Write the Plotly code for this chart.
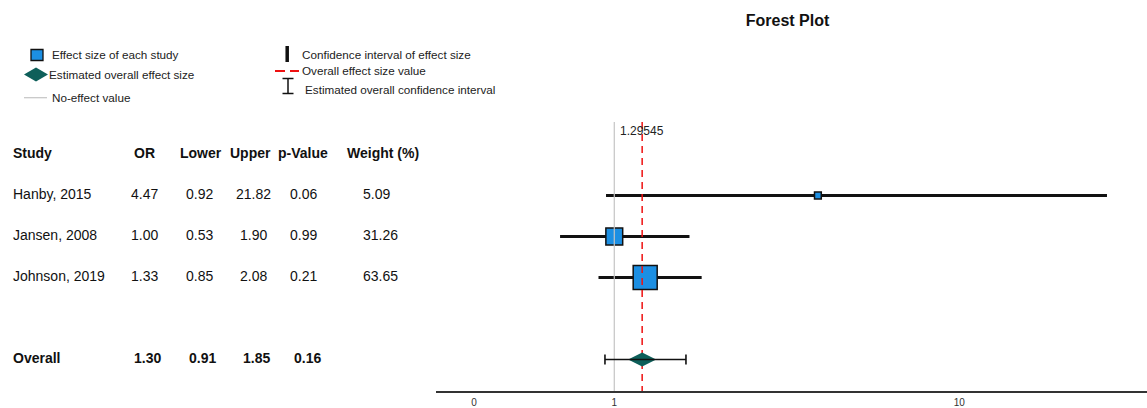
import math
import plotly.graph_objects as go

# ---------------- data ----------------
studies = ["Hanby, 2015", "Jansen, 2008", "Johnson, 2019"]
odds_ratio = [4.47, 1.00, 1.33]
ci_lower = [0.92, 0.53, 0.85]
ci_upper = [21.82, 1.90, 2.08]
p_values = [0.06, 0.99, 0.21]
weights = [5.09, 31.26, 63.65]

overall_label = "Overall"
overall_or = 1.29545
overall_lower = 0.91
overall_upper = 1.85
overall_p = 0.16

no_effect = 1.0
axis_ticks = [0, 1, 10]
header = ["Study", "OR", "Lower", "Upper", "p-Value", "Weight (%)"]

# ---------------- layout helpers ----------------
W, H = 1147, 408
FONT = "Arial, Liberation Sans, sans-serif"
BLUE = "#1c8fe3"
TEAL = "#0e5f5a"


def px(x):
    return x / W


def py(y):
    return 1 - y / H


ROW0, ROWH = 154.5, 41.0          # pixel of row 0 and row height
AXIS_PX = 391                     # pixel of x axis line
rows = list(range(1, len(studies) + 1))
overall_row = len(studies) + 2
line_top = -0.79                  # top of reference lines (row units)
line_bottom = (AXIS_PX - ROW0) / ROWH


def shift(v):
    # log(x+1) scale: plot value+1 on a log axis
    return v + 1


fig = go.Figure()

# study confidence intervals
fig.add_trace(go.Scatter(
    x=[shift(v) for v in odds_ratio], y=rows, mode="markers",
    marker=dict(size=1, color="rgba(0,0,0,0)"),
    error_x=dict(type="data", symmetric=False,
                 array=[u - o for u, o in zip(ci_upper, odds_ratio)],
                 arrayminus=[o - l for o, l in zip(odds_ratio, ci_lower)],
                 color="#111111", thickness=3, width=0),
    hoverinfo="skip", showlegend=False))

# study effect sizes (squares sized by weight)
wmax = max(weights)
fig.add_trace(go.Scatter(
    x=[shift(v) for v in odds_ratio], y=rows, mode="markers",
    marker=dict(symbol="square", color=BLUE, opacity=1,
                size=[24 * (w / wmax) ** 0.5 for w in weights],
                line=dict(color="#111111", width=1.5)),
    showlegend=False))

# no-effect line
fig.add_trace(go.Scatter(
    x=[shift(no_effect)] * 2, y=[line_top, line_bottom],
    mode="lines", line=dict(color="#c4c4c4", width=1.2),
    hoverinfo="skip", showlegend=False))

# overall effect line
fig.add_trace(go.Scatter(
    x=[shift(overall_or)] * 2, y=[line_top, line_bottom],
    mode="lines", line=dict(color="#ee1111", width=1.5, dash="7px,5px"),
    hoverinfo="skip", showlegend=False))

# overall diamond
fig.add_trace(go.Scatter(
    x=[shift(overall_or)], y=[overall_row], mode="markers",
    marker=dict(symbol="diamond-wide", size=20, color=TEAL, opacity=1,
                line=dict(width=0)),
    showlegend=False))

# overall confidence interval with caps
fig.add_trace(go.Scatter(
    x=[shift(overall_or)], y=[overall_row], mode="markers",
    marker=dict(size=1, color="rgba(0,0,0,0)"),
    error_x=dict(type="data", symmetric=False,
                 array=[overall_upper - overall_or],
                 arrayminus=[overall_or - overall_lower],
                 color="#111111", thickness=1.6, width=5),
    hoverinfo="skip", showlegend=False))

annotations = []

# overall value label (annotation x on a log axis is given in log10 units)
annotations.append(dict(
    x=math.log10(shift(overall_or)), y=-0.57, xref="x", yref="y",
    text=str(overall_or),
    showarrow=False, xanchor="center", yanchor="middle",
    font=dict(family=FONT, size=12, color="#222222")))

# ---------------- table ----------------
TF = 14
PAD = 2.5  # annotation inner padding compensation for left-anchored text
header_x = [13.5 - PAD, 144, 201, 250, 303, 383]
header_anchor = ["left", "center", "center", "center", "center", "center"]
for txt, x, a in zip(header, header_x, header_anchor):
    annotations.append(dict(
        x=px(x), y=0, xref="paper", yref="y", yshift=2, text=f"<b>{txt}</b>",
        showarrow=False, xanchor=a, yanchor="middle",
        font=dict(family=FONT, size=TF, color="#111111")))

col_x = [13.5 - PAD, 144, 199, 253, 303, 364 - PAD]
col_anchor = ["left", "center", "center", "center", "center", "left"]
for r, name, o, l, u, p, w in zip(rows, studies, odds_ratio, ci_lower,
                                  ci_upper, p_values, weights):
    cells = [name, f"{o:.2f}", f"{l:.2f}", f"{u:.2f}", f"{p:.2f}", f"{w:.2f}"]
    for txt, x, a in zip(cells, col_x, col_anchor):
        annotations.append(dict(
            x=px(x), y=r, xref="paper", yref="y", yshift=2, text=txt,
            showarrow=False, xanchor=a, yanchor="middle",
            font=dict(family=FONT, size=TF, color="#111111")))

ov_cells = [overall_label, f"{overall_or:.2f}", f"{overall_lower:.2f}",
            f"{overall_upper:.2f}", f"{overall_p:.2f}"]
ov_x = [13.5 - PAD, 147.5, 202, 256, 307]
for txt, x, a in zip(ov_cells, ov_x, col_anchor):
    annotations.append(dict(
        x=px(x), y=overall_row, xref="paper", yref="y", yshift=2,
        text=f"<b>{txt}</b>", showarrow=False, xanchor=a, yanchor="middle",
        font=dict(family=FONT, size=TF, color="#111111")))

# ---------------- custom legend ----------------
LF = 11.7
legend_texts = [
    (52, 54.3, "Effect size of each study"),
    (49.5, 74.3, "Estimated overall effect size"),
    (52, 97.7, "No-effect value"),
    (302.5, 54.3, "Confidence interval of effect size"),
    (302.5, 70.3, "Overall effect size value"),
    (305, 89.5, "Estimated overall confidence interval"),
]
for x, y, t in legend_texts:
    annotations.append(dict(
        x=px(x - PAD), y=py(y), xref="paper", yref="paper", text=t,
        showarrow=False, xanchor="left", yanchor="middle",
        font=dict(family=FONT, size=LF, color="#222222")))

shapes = []
# blue square
shapes.append(dict(type="rect", xref="paper", yref="paper",
                   x0=px(31), x1=px(43), y0=py(60.5), y1=py(49.5),
                   fillcolor=BLUE, line=dict(color="#111111", width=1.3)))
# diamond
pts = [(24, 74.5), (36, 67.5), (48, 74.5), (36, 81.5)]
path = "M " + " L ".join(f"{px(a):.5f},{py(b):.5f}" for a, b in pts) + " Z"
shapes.append(dict(type="path", xref="paper", yref="paper", path=path,
                   fillcolor=TEAL, line=dict(width=0)))
# grey line
shapes.append(dict(type="line", xref="paper", yref="paper",
                   x0=px(24), x1=px(47), y0=py(97.7), y1=py(97.7),
                   line=dict(color="#c4c4c4", width=1.2)))
# black bar
shapes.append(dict(type="line", xref="paper", yref="paper",
                   x0=px(287.2), x1=px(287.2), y0=py(46), y1=py(62),
                   line=dict(color="#111111", width=3.5)))
# red dashes
for a, b in [(275, 285), (290, 299)]:
    shapes.append(dict(type="line", xref="paper", yref="paper",
                       x0=px(a), x1=px(b), y0=py(71), y1=py(71),
                       line=dict(color="#ee1111", width=2)))
# I-beam
shapes.append(dict(type="line", xref="paper", yref="paper",
                   x0=px(288), x1=px(288), y0=py(78.5), y1=py(93.5),
                   line=dict(color="#111111", width=1.5)))
for yy in (78.5, 93.5):
    shapes.append(dict(type="line", xref="paper", yref="paper",
                       x0=px(282.5), x1=px(293.5), y0=py(yy), y1=py(yy),
                       line=dict(color="#111111", width=1.5)))

# ---------------- axes ----------------
x_left_px, x_ref0_px, decade_px = 436, 474, 466
xr0 = (x_left_px - x_ref0_px) / decade_px
xr1 = (W - x_ref0_px) / decade_px

fig.update_layout(
    width=W, height=H, autosize=False,
    margin=dict(l=0, r=0, t=0, b=0, autoexpand=False),
    paper_bgcolor="white", plot_bgcolor="white",
    title=dict(text="<b>Forest Plot</b>", x=px(787.5), y=py(20),
               xanchor="center", yanchor="middle", xref="paper", yref="paper",
               font=dict(family=FONT, size=16, color="#111111")),
    xaxis=dict(type="log", domain=[px(x_left_px), 1], range=[xr0, xr1],
               automargin=False,
               tickvals=[shift(t) for t in axis_ticks],
               ticktext=[str(t) for t in axis_ticks],
               showgrid=False, zeroline=False, showline=True,
               linecolor="#333333", linewidth=2,
               ticks="", ticklabelstandoff=1,
               tickfont=dict(family=FONT, size=10, color="#333333")),
    yaxis=dict(domain=[(H - AXIS_PX) / H, 1], automargin=False,
               range=[line_bottom, -ROW0 / ROWH],
               visible=False, showgrid=False, zeroline=False),
    annotations=annotations, shapes=shapes,
    showlegend=False,
)

fig.write_html("out.html")
